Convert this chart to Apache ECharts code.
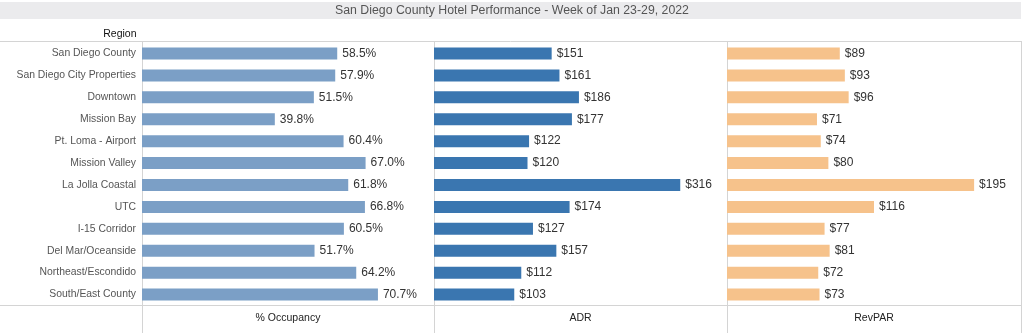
<!DOCTYPE html>
<html>
<head>
<meta charset="utf-8">
<script src="https://cdn.jsdelivr.net/npm/echarts@6/dist/echarts.min.js"></script>
<style>html,body{margin:0;padding:0;background:#fff;}#c{width:1024px;height:333px;}</style>
</head>
<body>
<div id="c"></div>
<script>
const regions = ["San Diego County","San Diego City Properties","Downtown","Mission Bay","Pt. Loma - Airport","Mission Valley","La Jolla Coastal","UTC","I-15 Corridor","Del Mar/Oceanside","Northeast/Escondido","South/East County"];
const occupancy = [58.5,57.9,51.5,39.8,60.4,67.0,61.8,66.8,60.5,51.7,64.2,70.7];
const adr = [151,161,186,177,122,120,316,174,127,157,112,103];
const revpar = [89,93,96,71,74,80,195,116,77,81,72,73];
const measureNames = ["% Occupancy","ADR","RevPAR"];
const titleText = "San Diego County Hotel Performance - Week of Jan 23-29, 2022";

const FONT = "Liberation Sans, Arial, sans-serif";
const chart = echarts.init(document.getElementById('c'), null, {renderer:'canvas'});
const gTop = 42.5, gHeight = 263;
const lefts = [142, 434, 727];
const widths = [292, 293, 294];
const maxes = [87.5, 376, 232];
const colors = ['#7b9fc6', '#3a76b0', '#f6c28b'];
const datas = [occupancy, adr, revpar];
const fmts = [v => v.toFixed(1) + '%', v => '$' + v, v => '$' + v];
const lineColor = '#d4d4d4';

const grids = [], xAxes = [], yAxes = [], series = [];
for (let i = 0; i < 3; i++) {
  grids.push({left: lefts[i], top: gTop, width: widths[i], height: gHeight, containLabel: false});
  xAxes.push({type:'value', gridIndex:i, min:0, max:maxes[i], show:true,
    axisLine:{show:false}, axisTick:{show:false}, axisLabel:{show:false}, splitLine:{show:false},
    name: measureNames[i], nameLocation:'middle', nameGap:7,
    nameTextStyle:{color:'#222', fontSize:10.5, fontFamily:FONT, verticalAlign:'top'}});
  yAxes.push({type:'category', gridIndex:i, data:regions, inverse:true,
    axisLine:{show:false}, axisTick:{show:false},
    axisLabel:{show:i===0, color:'#555', fontSize:10.4, fontFamily:FONT, margin:6},
    splitLine:{show:false}});
  const f = fmts[i];
  series.push({type:'bar', xAxisIndex:i, yAxisIndex:i, data:datas[i], barWidth:12,
    itemStyle:{color:colors[i]}, silent:true,
    label:{show:true, position:'right', distance:5, color:'#333', fontSize:12, fontFamily:FONT,
      formatter: p => f(p.value)}});
}

const graphic = [
  {type:'rect', shape:{x:0, y:2, width:1021, height:17}, style:{fill:'#ebebed'}, z:-1},
  {type:'text', x:512, y:11, style:{text:titleText, fill:'#555', font:'12.3px ' + FONT, align:'center', verticalAlign:'middle'}},
  {type:'text', x:136.5, y:34.5, style:{text:'Region', fill:'#111', font:'10.5px ' + FONT, align:'right', verticalAlign:'middle'}},
  {type:'line', shape:{x1:0, y1:41.5, x2:1021, y2:41.5}, style:{stroke:lineColor, lineWidth:1}},
  {type:'line', shape:{x1:0, y1:305.5, x2:1021, y2:305.5}, style:{stroke:lineColor, lineWidth:1}},
  {type:'line', shape:{x1:142.5, y1:41, x2:142.5, y2:333}, style:{stroke:lineColor, lineWidth:1}},
  {type:'line', shape:{x1:434.5, y1:41, x2:434.5, y2:333}, style:{stroke:lineColor, lineWidth:1}},
  {type:'line', shape:{x1:727.5, y1:41, x2:727.5, y2:333}, style:{stroke:lineColor, lineWidth:1}},
  {type:'line', shape:{x1:1021.5, y1:41, x2:1021.5, y2:333}, style:{stroke:lineColor, lineWidth:1}}
];

chart.setOption({
  animation:false,
  backgroundColor:'#fff',
  grid:grids, xAxis:xAxes, yAxis:yAxes, series:series, graphic:graphic
});
</script>
</body>
</html>
